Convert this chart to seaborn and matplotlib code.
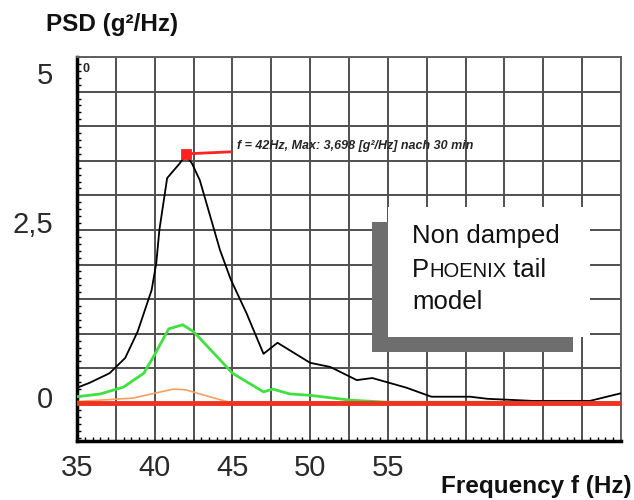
import numpy as np
import pandas as pd
import matplotlib
matplotlib.use("Agg")
import matplotlib.pyplot as plt
import matplotlib.ticker as mticker
import matplotlib.transforms as mtransforms
from matplotlib.patches import Rectangle
import seaborn as sns

sns.set_theme(style="white")
plt.rcParams['font.family'] = ['Liberation Sans', 'DejaVu Sans']

#%% Dados
f_black = [35.0, 35.8, 37.1, 38.1, 38.9, 39.8, 40.1, 40.3, 40.8, 41.6, 42.0, 42.4,
           42.9, 44.2, 44.9, 45.9, 47.0, 47.9, 50.0, 51.3, 53.0, 54.0, 55.1, 56.2,
           57.8, 60.3, 61.4, 64.3, 68.0, 70.0]
psd_black = [0.22, 0.29, 0.43, 0.65, 1.03, 1.63, 2.02, 2.50, 3.25, 3.46, 3.58, 3.46,
             3.22, 2.21, 1.78, 1.30, 0.71, 0.87, 0.58, 0.52, 0.33, 0.36, 0.29, 0.22,
             0.09, 0.09, 0.06, 0.03, 0.03, 0.14]

f_green = [35.0, 36.5, 38.0, 39.3, 39.9, 40.9, 41.8, 42.5, 43.8, 45.0, 47.0, 47.6,
           48.7, 50.0, 52.6, 55.0, 60.0, 65.0, 70.0]
psd_green = [0.09, 0.13, 0.23, 0.43, 0.66, 1.07, 1.13, 1.03, 0.72, 0.43, 0.16, 0.20,
             0.13, 0.11, 0.04, 0.01, 0.01, 0.01, 0.00]

f_orange = [35.0, 38.6, 41.2, 42.0, 42.9, 44.8, 50.0, 60.0, 70.0]
psd_orange = [0.02, 0.07, 0.20, 0.19, 0.13, 0.01, 0.01, 0.01, 0.00]

f_red = [35.0, 70.0]
psd_red = [0.0, 0.0]

peak_f = 42.0
peak_psd = 3.6
annot = "f = 42Hz, Max: 3,698 [g²/Hz] nach 30 min"

xticks_lab = {35: "35", 40: "40", 45: "45", 50: "50", 55: "55"}
yticks_lab = {0.0: "0", 2.5: "2,5", 5.0: "5"}

#%% Figura
fig = plt.figure(figsize=(6.34, 5), dpi=100)
ax = fig.add_axes([77/634, 1 - 441/500, 544/634, 384/500])

sns.lineplot(x=f_black, y=psd_black, color="black", lw=1.3, ax=ax, zorder=4)
sns.lineplot(x=f_green, y=psd_green, color="#3fe03f", lw=2.0, ax=ax, zorder=3)
sns.lineplot(x=f_orange, y=psd_orange, color="#f5a060", lw=1.2, ax=ax, zorder=3)
sns.lineplot(x=f_red, y=psd_red, color="#ee3322", lw=3.5, ax=ax, zorder=5)
sns.scatterplot(x=[peak_f], y=[peak_psd], marker="s", s=55, color="#ff2222",
                edgecolor="#ff2222", ax=ax, zorder=6)

ax.annotate(annot, xy=(peak_f, peak_psd), xytext=(45.3, 3.72),
            fontsize=9, style="italic", weight="bold", ha="left", va="center",
            arrowprops=dict(arrowstyle="-", color="#ff2222", lw=2,
                            relpos=(0, 0.0), shrinkA=2, shrinkB=0), zorder=6)

ax.set_xlim(35, 70)
ax.set_ylim(-0.55, 5.0)

xmaj = np.arange(35, 70.01, 2.5)
ax.set_xticks(xmaj)
ax.set_xticklabels([xticks_lab.get(v, "") for v in xmaj])
ymaj = np.arange(0, 5.01, 0.5)
ax.set_yticks(ymaj)
ax.set_yticklabels([yticks_lab.get(round(v, 1), "") for v in ymaj])
ax.xaxis.set_minor_locator(mticker.MultipleLocator(0.5))
ax.yaxis.set_minor_locator(mticker.MultipleLocator(0.1))

ax.grid(which="major", color="#505050", lw=1.4)
ax.set_axisbelow(True)

for s in ["top", "right"]:
    ax.spines[s].set_color("#606060")
    ax.spines[s].set_linewidth(1.4)
for s in ["left", "bottom"]:
    ax.spines[s].set_color("black")
    ax.spines[s].set_linewidth(2.5)

ax.tick_params(axis="x", which="major", length=0, pad=9, labelsize=21, labelcolor="#2a2a2a")
ax.tick_params(axis="y", which="major", length=5, width=1.4, color="#505050",
               direction="out", pad=12, labelsize=21, labelcolor="#2a2a2a")
ax.tick_params(which="minor", length=3, width=1, color="black", direction="in",
               bottom=True, left=True)
ax.set_xlabel("")
ax.set_ylabel("")

# kleine "0" oben links
ax.text(0.011, 0.97, "0", transform=ax.transAxes, fontsize=9, weight="bold",
        ha="left", va="center")

# Legendenkasten mit Schatten
ax.add_patch(Rectangle((0.542, 0.232), 0.37, 0.338, transform=ax.transAxes,
                       facecolor="#6e6e6e", edgecolor="none", zorder=7))
ax.add_patch(Rectangle((0.572, 0.271), 0.371, 0.338, transform=ax.transAxes,
                       facecolor="white", edgecolor="none", zorder=8))
fs = 18.5
ax.text(0.616, 0.515, "Non damped", transform=ax.transAxes, fontsize=fs,
        ha="left", va="baseline", zorder=9, color="#111111")
t1 = ax.text(0.616, 0.428, "P", transform=ax.transAxes, fontsize=fs,
             ha="left", va="baseline", zorder=9, color="#111111")
t2 = ax.annotate("HOENIX", xy=(1, 0.428), xycoords=(t1, "axes fraction"),
                 fontsize=14.5, ha="left", va="baseline", zorder=9, color="#111111")
ax.annotate(" tail", xy=(1, 0.428), xycoords=(t2, "axes fraction"),
            fontsize=fs, ha="left", va="baseline", zorder=9, color="#111111")
ax.text(0.616, 0.345, "model", transform=ax.transAxes, fontsize=fs,
        ha="left", va="baseline", zorder=9, color="#111111")

fig.text(46/634, 1 - 31/500, "PSD (g²/Hz)", fontsize=17.5, weight="bold",
         ha="left", va="baseline", color="#111111")
fig.text(632/634, 1 - 493/500, "Frequency f (Hz)", fontsize=17.5, weight="bold",
         ha="right", va="baseline", color="#111111")

# y-Beschriftungen leicht verschoben wie im Original
shift = {5.0: -16, 2.5: 8, 0.0: 6}
for tick, v in zip(ax.yaxis.get_major_ticks(), ymaj):
    dy = shift.get(round(v, 1), 0)
    if dy:
        off = mtransforms.ScaledTranslation(0, dy / 100, fig.dpi_scale_trans)
        tick.label1.set_transform(tick.label1.get_transform() + off)

plt.savefig("out.png", dpi=100)
